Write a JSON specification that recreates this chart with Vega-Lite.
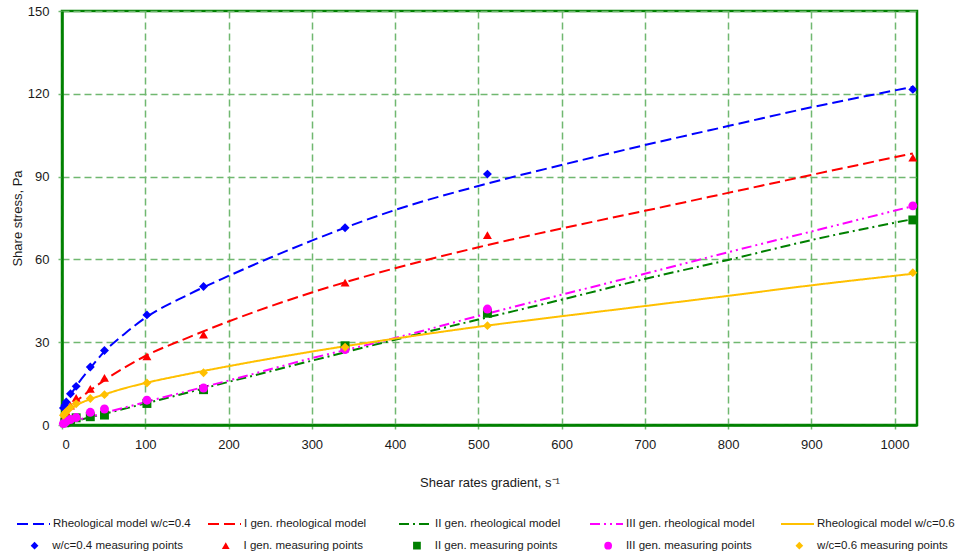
{
  "$schema": "https://vega.github.io/schema/vega-lite/v6.json",
  "width": 855,
  "height": 414,
  "autosize": {"type": "none"},
  "padding": {"left": 62, "top": 11, "right": 53, "bottom": 134},
  "background": "white",
  "config": {
    "font": "Liberation Sans",
    "view": {"stroke": "#008000", "strokeWidth": 2.5},
    "axis": {
      "domainColor": "#008000",
      "domainWidth": 2.5,
      "gridColor": "#70b870",
      "gridWidth": 1.5,
      "gridDash": [7, 4],
      "tickColor": "#70b870",
      "tickSize": 4,
      "tickWidth": 1.5,
      "labelFont": "Liberation Sans",
      "labelFontSize": 13,
      "labelColor": "#1a1a1a",
      "titleFont": "Liberation Sans",
      "titleFontSize": 13,
      "titleFontWeight": "normal",
      "titleColor": "#1a1a1a"
    },
    "legend": {
      "labelFont": "Liberation Sans",
      "labelFontSize": 11.5,
      "labelColor": "#1a1a1a",
      "labelLimit": 400,
      "padding": 0
    }
  },
  "datasets": {
    "lines": [
      {"model": "Rheological model w/c=0.4", "x": 0, "y": 5.5},
      {"model": "Rheological model w/c=0.4", "x": 5, "y": 8.3},
      {"model": "Rheological model w/c=0.4", "x": 10, "y": 10.8},
      {"model": "Rheological model w/c=0.4", "x": 20, "y": 15.3},
      {"model": "Rheological model w/c=0.4", "x": 35, "y": 21},
      {"model": "Rheological model w/c=0.4", "x": 50, "y": 26.3},
      {"model": "Rheological model w/c=0.4", "x": 75, "y": 33},
      {"model": "Rheological model w/c=0.4", "x": 100, "y": 38.8},
      {"model": "Rheological model w/c=0.4", "x": 150, "y": 47},
      {"model": "Rheological model w/c=0.4", "x": 200, "y": 54},
      {"model": "Rheological model w/c=0.4", "x": 250, "y": 60.6},
      {"model": "Rheological model w/c=0.4", "x": 300, "y": 66.8},
      {"model": "Rheological model w/c=0.4", "x": 400, "y": 77.9},
      {"model": "Rheological model w/c=0.4", "x": 500, "y": 86.6},
      {"model": "Rheological model w/c=0.4", "x": 600, "y": 94.2},
      {"model": "Rheological model w/c=0.4", "x": 700, "y": 101.4},
      {"model": "Rheological model w/c=0.4", "x": 800, "y": 108.3},
      {"model": "Rheological model w/c=0.4", "x": 900, "y": 115.1},
      {"model": "Rheological model w/c=0.4", "x": 1022, "y": 122.5},

      {"model": "I gen. rheological model", "x": 0, "y": 3.2},
      {"model": "I gen. rheological model", "x": 5, "y": 5},
      {"model": "I gen. rheological model", "x": 10, "y": 6.6},
      {"model": "I gen. rheological model", "x": 20, "y": 9.3},
      {"model": "I gen. rheological model", "x": 35, "y": 12.8},
      {"model": "I gen. rheological model", "x": 50, "y": 16},
      {"model": "I gen. rheological model", "x": 75, "y": 20.8},
      {"model": "I gen. rheological model", "x": 100, "y": 25},
      {"model": "I gen. rheological model", "x": 150, "y": 31.5},
      {"model": "I gen. rheological model", "x": 200, "y": 37.5},
      {"model": "I gen. rheological model", "x": 300, "y": 48},
      {"model": "I gen. rheological model", "x": 400, "y": 56.8},
      {"model": "I gen. rheological model", "x": 500, "y": 64.4},
      {"model": "I gen. rheological model", "x": 600, "y": 71.2},
      {"model": "I gen. rheological model", "x": 700, "y": 77.6},
      {"model": "I gen. rheological model", "x": 800, "y": 84.1},
      {"model": "I gen. rheological model", "x": 900, "y": 90.6},
      {"model": "I gen. rheological model", "x": 1022, "y": 98.4},

      {"model": "II gen. rheological model", "x": 0, "y": 0.3},
      {"model": "II gen. rheological model", "x": 50, "y": 4},
      {"model": "II gen. rheological model", "x": 100, "y": 7.8},
      {"model": "II gen. rheological model", "x": 200, "y": 15.6},
      {"model": "II gen. rheological model", "x": 300, "y": 23.3},
      {"model": "II gen. rheological model", "x": 400, "y": 30.9},
      {"model": "II gen. rheological model", "x": 500, "y": 38.2},
      {"model": "II gen. rheological model", "x": 600, "y": 45.4},
      {"model": "II gen. rheological model", "x": 700, "y": 52.9},
      {"model": "II gen. rheological model", "x": 800, "y": 59.8},
      {"model": "II gen. rheological model", "x": 900, "y": 67},
      {"model": "II gen. rheological model", "x": 1022, "y": 74.6},

      {"model": "III gen. rheological model", "x": 0, "y": 0.3},
      {"model": "III gen. rheological model", "x": 50, "y": 4.3},
      {"model": "III gen. rheological model", "x": 100, "y": 8.3},
      {"model": "III gen. rheological model", "x": 200, "y": 16.1},
      {"model": "III gen. rheological model", "x": 300, "y": 24.2},
      {"model": "III gen. rheological model", "x": 400, "y": 31.5},
      {"model": "III gen. rheological model", "x": 500, "y": 39.5},
      {"model": "III gen. rheological model", "x": 600, "y": 47.2},
      {"model": "III gen. rheological model", "x": 700, "y": 54.8},
      {"model": "III gen. rheological model", "x": 800, "y": 62.6},
      {"model": "III gen. rheological model", "x": 900, "y": 70.1},
      {"model": "III gen. rheological model", "x": 1022, "y": 79.3},

      {"model": "Rheological model w/c=0.6", "x": 0, "y": 3},
      {"model": "Rheological model w/c=0.6", "x": 5, "y": 4.8},
      {"model": "Rheological model w/c=0.6", "x": 10, "y": 5.9},
      {"model": "Rheological model w/c=0.6", "x": 20, "y": 7.6},
      {"model": "Rheological model w/c=0.6", "x": 35, "y": 9.5},
      {"model": "Rheological model w/c=0.6", "x": 50, "y": 11},
      {"model": "Rheological model w/c=0.6", "x": 75, "y": 13.3},
      {"model": "Rheological model w/c=0.6", "x": 100, "y": 15.2},
      {"model": "Rheological model w/c=0.6", "x": 150, "y": 18.4},
      {"model": "Rheological model w/c=0.6", "x": 200, "y": 21.3},
      {"model": "Rheological model w/c=0.6", "x": 300, "y": 26.6},
      {"model": "Rheological model w/c=0.6", "x": 400, "y": 31.3},
      {"model": "Rheological model w/c=0.6", "x": 500, "y": 35.6},
      {"model": "Rheological model w/c=0.6", "x": 600, "y": 39.4},
      {"model": "Rheological model w/c=0.6", "x": 700, "y": 43.1},
      {"model": "Rheological model w/c=0.6", "x": 800, "y": 46.8},
      {"model": "Rheological model w/c=0.6", "x": 900, "y": 50.6},
      {"model": "Rheological model w/c=0.6", "x": 1022, "y": 54.8}
    ],
    "points": [
      {"pts": "w/c=0.4 measuring points", "x": 1.7, "y": 6.2},
      {"pts": "w/c=0.4 measuring points", "x": 3.4, "y": 7.2},
      {"pts": "w/c=0.4 measuring points", "x": 5.1, "y": 8.3},
      {"pts": "w/c=0.4 measuring points", "x": 10.2, "y": 11.3},
      {"pts": "w/c=0.4 measuring points", "x": 17, "y": 14},
      {"pts": "w/c=0.4 measuring points", "x": 34, "y": 21},
      {"pts": "w/c=0.4 measuring points", "x": 51, "y": 27},
      {"pts": "w/c=0.4 measuring points", "x": 102, "y": 39.9},
      {"pts": "w/c=0.4 measuring points", "x": 170, "y": 50.2},
      {"pts": "w/c=0.4 measuring points", "x": 340, "y": 71.5},
      {"pts": "w/c=0.4 measuring points", "x": 511, "y": 90.9},
      {"pts": "w/c=0.4 measuring points", "x": 1022, "y": 121.6},

      {"pts": "I gen. measuring points", "x": 3.4, "y": 3.8},
      {"pts": "I gen. measuring points", "x": 5.1, "y": 4.8},
      {"pts": "I gen. measuring points", "x": 10.2, "y": 7},
      {"pts": "I gen. measuring points", "x": 17, "y": 9.8},
      {"pts": "I gen. measuring points", "x": 34, "y": 13.1},
      {"pts": "I gen. measuring points", "x": 51, "y": 17.1},
      {"pts": "I gen. measuring points", "x": 102, "y": 24.9},
      {"pts": "I gen. measuring points", "x": 170, "y": 32.7},
      {"pts": "I gen. measuring points", "x": 340, "y": 51.6},
      {"pts": "I gen. measuring points", "x": 511, "y": 68.8},
      {"pts": "I gen. measuring points", "x": 1022, "y": 96.9},

      {"pts": "II gen. measuring points", "x": 3.4, "y": 0.8},
      {"pts": "II gen. measuring points", "x": 5.1, "y": 1.1},
      {"pts": "II gen. measuring points", "x": 10.2, "y": 1.8},
      {"pts": "II gen. measuring points", "x": 17, "y": 2.6},
      {"pts": "II gen. measuring points", "x": 34, "y": 3},
      {"pts": "II gen. measuring points", "x": 51, "y": 3.6},
      {"pts": "II gen. measuring points", "x": 102, "y": 7.8},
      {"pts": "II gen. measuring points", "x": 170, "y": 12.8},
      {"pts": "II gen. measuring points", "x": 340, "y": 28.7},
      {"pts": "II gen. measuring points", "x": 511, "y": 40.5},
      {"pts": "II gen. measuring points", "x": 1022, "y": 74.3},

      {"pts": "III gen. measuring points", "x": 1.7, "y": 0.5},
      {"pts": "III gen. measuring points", "x": 3.4, "y": 0.8},
      {"pts": "III gen. measuring points", "x": 5.1, "y": 1.3},
      {"pts": "III gen. measuring points", "x": 10.2, "y": 2},
      {"pts": "III gen. measuring points", "x": 17, "y": 2.7},
      {"pts": "III gen. measuring points", "x": 34, "y": 4.6},
      {"pts": "III gen. measuring points", "x": 51, "y": 5.8},
      {"pts": "III gen. measuring points", "x": 102, "y": 9},
      {"pts": "III gen. measuring points", "x": 170, "y": 13.4},
      {"pts": "III gen. measuring points", "x": 340, "y": 27.3},
      {"pts": "III gen. measuring points", "x": 511, "y": 42},
      {"pts": "III gen. measuring points", "x": 1022, "y": 79.4},

      {"pts": "w/c=0.6 measuring points", "x": 1.7, "y": 3.5},
      {"pts": "w/c=0.6 measuring points", "x": 3.4, "y": 4.2},
      {"pts": "w/c=0.6 measuring points", "x": 5.1, "y": 4.8},
      {"pts": "w/c=0.6 measuring points", "x": 10.2, "y": 6.3},
      {"pts": "w/c=0.6 measuring points", "x": 17, "y": 7.7},
      {"pts": "w/c=0.6 measuring points", "x": 34, "y": 9.6},
      {"pts": "w/c=0.6 measuring points", "x": 51, "y": 11},
      {"pts": "w/c=0.6 measuring points", "x": 102, "y": 15.2},
      {"pts": "w/c=0.6 measuring points", "x": 170, "y": 18.9},
      {"pts": "w/c=0.6 measuring points", "x": 340, "y": 28.2},
      {"pts": "w/c=0.6 measuring points", "x": 511, "y": 36},
      {"pts": "w/c=0.6 measuring points", "x": 1022, "y": 55.2}
    ]
  },
  "resolve": {"scale": {"color": "independent", "strokeDash": "independent", "shape": "independent"}},
  "layer": [
    {
      "data": {"name": "lines"},
      "mark": {"type": "line", "strokeWidth": 2, "interpolate": "monotone"},
      "encoding": {
        "x": {
          "field": "x", "type": "quantitative",
          "scale": {"domain": [0, 1027], "nice": false, "zero": false},
          "axis": {"values": [0, 100, 200, 300, 400, 500, 600, 700, 800, 900, 1000], "format": "d", "labelPadding": 9, "title": "Shear rates gradient, s⁻¹", "titlePadding": 25}
        },
        "y": {
          "field": "y", "type": "quantitative",
          "scale": {"domain": [0, 150], "nice": false},
          "axis": {"values": [0, 30, 60, 90, 120, 150], "labelPadding": 9, "title": "Share stress, Pa", "titlePadding": 3}
        },
        "color": {
          "field": "model", "type": "nominal",
          "scale": {
            "domain": ["Rheological model w/c=0.4", "I gen. rheological model", "II gen. rheological model", "III gen. rheological model", "Rheological model w/c=0.6"],
            "range": ["#0000ff", "#ff0000", "#008000", "#ff00ff", "#ffc000"]
          },
          "legend": {"title": null, "orient": "none", "legendX": -46, "legendY": 495.5, "direction": "horizontal", "columns": 5, "gridAlign": "all", "columnPadding": 13, "symbolSize": 1089, "symbolStrokeWidth": 2, "labelOffset": 2}
        },
        "strokeDash": {
          "field": "model", "type": "nominal",
          "scale": {
            "domain": ["Rheological model w/c=0.4", "I gen. rheological model", "II gen. rheological model", "III gen. rheological model", "Rheological model w/c=0.6"],
            "range": [[11, 5], [11, 5], [10, 4, 2, 4], [10, 4, 2, 4, 2, 4], [1, 0]]
          },
          "legend": {"title": null, "orient": "none", "legendX": -46, "legendY": 495.5, "direction": "horizontal", "columns": 5, "gridAlign": "all", "columnPadding": 13, "symbolSize": 1089, "symbolStrokeWidth": 2, "labelOffset": 2}
        }
      }
    },
    {
      "data": {"name": "points"},
      "mark": {"type": "point", "filled": true, "opacity": 1, "size": 80},
      "encoding": {
        "x": {"field": "x", "type": "quantitative"},
        "y": {"field": "y", "type": "quantitative"},
        "color": {
          "field": "pts", "type": "nominal",
          "scale": {
            "domain": ["w/c=0.4 measuring points", "I gen. measuring points", "II gen. measuring points", "III gen. measuring points", "w/c=0.6 measuring points"],
            "range": ["#0000ff", "#ff0000", "#008000", "#ff00ff", "#ffc000"]
          },
          "legend": {"title": null, "orient": "none", "legendX": -33.2, "legendY": 528.5, "direction": "horizontal", "columns": 5, "gridAlign": "all", "columnPadding": 36.2, "symbolSize": 60, "labelOffset": 12}
        },
        "shape": {
          "field": "pts", "type": "nominal",
          "scale": {
            "domain": ["w/c=0.4 measuring points", "I gen. measuring points", "II gen. measuring points", "III gen. measuring points", "w/c=0.6 measuring points"],
            "range": ["diamond", "triangle-up", "square", "circle", "diamond"]
          },
          "legend": {"title": null, "orient": "none", "legendX": -33.2, "legendY": 528.5, "direction": "horizontal", "columns": 5, "gridAlign": "all", "columnPadding": 36.2, "symbolSize": 60, "labelOffset": 12}
        }
      }
    }
  ]
}
